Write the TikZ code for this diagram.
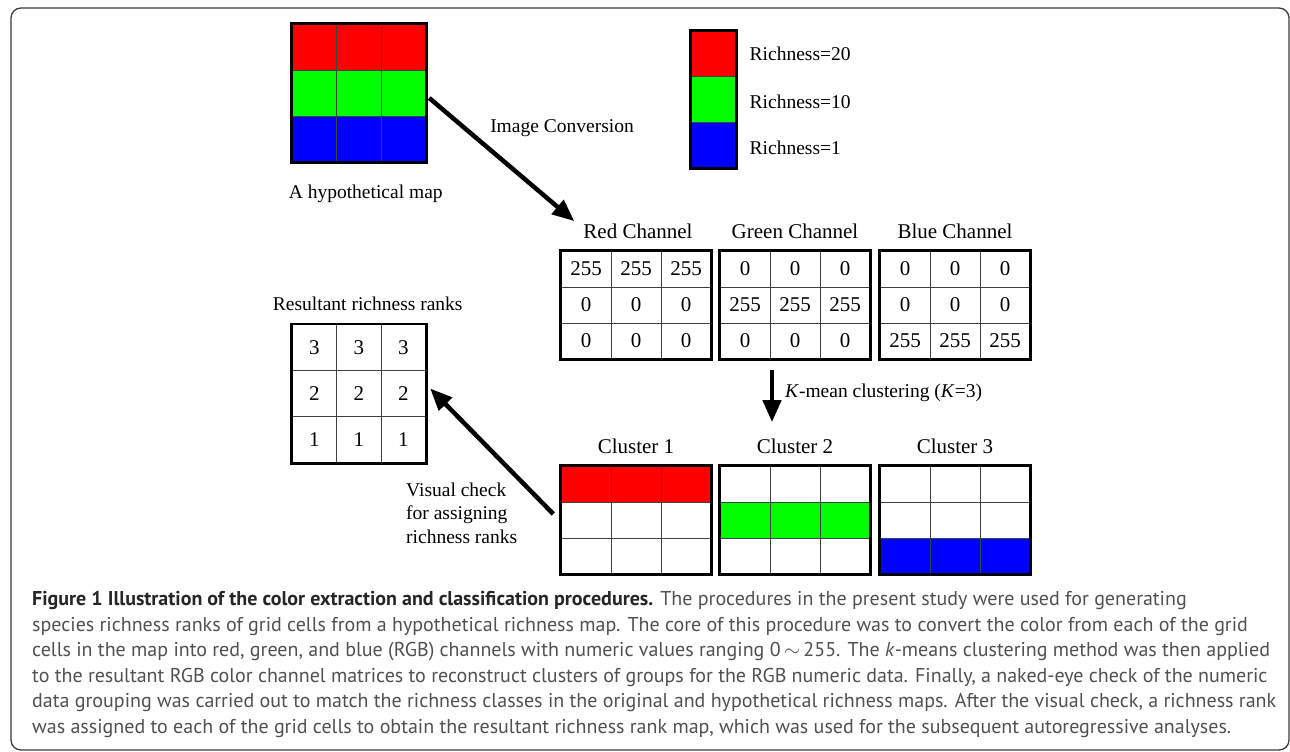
\documentclass[tikz,border=0pt]{standalone}
\usepackage{fontspec}
\setmainfont{Liberation Serif}
\newfontfamily\capfont{PT Sans}
\usetikzlibrary{positioning, matrix, arrows.meta}

\definecolor{mapred}{RGB}{255,0,0}
\definecolor{mapgreen}{RGB}{0,255,0}
\definecolor{mapblue}{RGB}{0,0,255}
\definecolor{capgray}{RGB}{80,80,82}
\definecolor{framegray}{RGB}{60,60,60}

% caption size: widest line is 1244 px wide in the figure
\newlength\capw
\settowidth\capw{\capfont\fontsize{10}{12}\selectfont data grouping was carried out to match the richness classes in the original and hypothetical richness maps. After the visual check, a richness rank}
\pgfmathsetmacro\capsize{10*1244/\capw}

\begin{document}
\begin{tikzpicture}[
    x=1pt, y=-1pt,
    cellgrid/.style={matrix of nodes, nodes in empty cells, inner sep=0pt,
      column sep=-1pt, row sep=-1pt,
      nodes={draw=black!75, line width=1pt, inner sep=0pt, anchor=center,
        minimum width=50pt, minimum height=36pt, font=\fontsize{21}{25}\selectfont}},
    mapgrid/.style={cellgrid, nodes={minimum width=44.5pt, minimum height=46pt}},
    outline/.style={draw=black, line width=2.6pt},
    chantitle/.style={font=\fontsize{21}{25}\selectfont, inner sep=2pt},
    lab/.style={font=\fontsize{19.5}{23.5}\selectfont, inner sep=2pt},
    bigarrow/.style={line width=4.5pt, -{Triangle[length=22pt,width=18pt]}},
    node distance=9pt
  ]
  \useasboundingbox (0,0) rectangle (1290,752);
  \draw[framegray, line width=1.3pt, rounded corners=10pt] (11,8) rectangle (1289,750);

  % colour map and legend
  \matrix[mapgrid, row 1/.style={nodes={fill=mapred}}, row 2/.style={nodes={fill=mapgreen}},
    row 3/.style={nodes={fill=mapblue}}] (map) at (358.75,93) {&&\\&&\\&&\\};
  \node[lab, below=20pt of map, xshift=7pt] (mapT) {A hypothetical map};
  \matrix[cellgrid, nodes={minimum width=45pt, minimum height=45.7pt},
    row 1/.style={nodes={fill=mapred}}, row 2/.style={nodes={fill=mapgreen}},
    row 3/.style={nodes={fill=mapblue}}] (legend) at (713.5,99.5) {\\\\\\};
  \node[lab, right=11pt of legend-1-1] (r20) {Richness=20};
  \node[lab, right=11pt of legend-2-1, yshift=-2pt] (r10) {Richness=10};
  \node[lab, right=11pt of legend-3-1, yshift=-3pt] (r1) {Richness=1};
  \node[lab] (conv) at (562,128) {Image Conversion};

  % RGB channels
  \matrix[cellgrid] (redch) at (636,305) {255 & 255 & 255\\ 0 & 0 & 0\\ 0 & 0 & 0\\};
  \matrix[cellgrid] (greench) at (795,305) {0 & 0 & 0\\ 255 & 255 & 255\\ 0 & 0 & 0\\};
  \matrix[cellgrid] (bluech) at (955,305) {0 & 0 & 0\\ 0 & 0 & 0\\ 255 & 255 & 255\\};
  \node[chantitle, above=of redch, xshift=2pt] (redT) {Red Channel};
  \node[chantitle, above=of greench] (greenT) {Green Channel};
  \node[chantitle, above=of bluech] (blueT) {Blue Channel};

  % clusters
  \matrix[cellgrid, row 1/.style={nodes={fill=mapred}}] (cl1) at (636,520) {&&\\&&\\&&\\};
  \matrix[cellgrid, row 2/.style={nodes={fill=mapgreen}}] (cl2) at (795,520) {&&\\&&\\&&\\};
  \matrix[cellgrid, row 3/.style={nodes={fill=mapblue}}] (cl3) at (955,520) {&&\\&&\\&&\\};
  \node[chantitle, above=of cl1] (cl1T) {Cluster 1};
  \node[chantitle, above=of cl2] (cl2T) {Cluster 2};
  \node[chantitle, above=of cl3] (cl3T) {Cluster 3};
  \node[lab, anchor=west] (kmean) at (783,393) {\textit{K}-mean clustering (\textit{K}=3)};

  % ranks
  \matrix[mapgrid] (ranks) at (358.75,393.5) {3 & 3 & 3\\ 2 & 2 & 2\\ 1 & 1 & 1\\};
  \node[lab, above=11pt of ranks, xshift=9pt] (ranksT) {Resultant richness ranks};
  \node[lab, anchor=west, align=left] (vis) at (404,513) {Visual check\\for assigning\\richness ranks};

  \foreach \g in {map,legend,redch,greench,bluech,ranks,cl1,cl2,cl3}
    \draw[outline] (\g.north west) rectangle (\g.south east);

  \draw[bigarrow] ([shift={(3,5)}]map.east) -- ([shift={(-7,-1)}]redT.north west);
  \draw[bigarrow] ([shift={(-23,10)}]greench.south) -- ([shift={(-23,-15)}]cl2T.north);
  \draw[bigarrow] ([shift={(-7,-6)}]cl1.west) -- ([shift={(4,-5)}]ranks.east);

  % caption
  \node[anchor=north west, inner sep=0pt, align=left, text=capgray,
    font=\capfont\fontsize{\capsize}{25.6}\selectfont] (cap) at (32,591)
    {\textbf{\color{black!85}Figure 1 Illustration of the color extraction and classification procedures.} The procedures in the present study were used for generating\\
     species richness ranks of grid cells from a hypothetical richness map. The core of this procedure was to convert the color from each of the grid\\
     cells in the map into red, green, and blue (RGB) channels with numeric values ranging 0\,$\sim$\,255. The \textit{k}-means clustering method was then applied\\
     to the resultant RGB color channel matrices to reconstruct clusters of groups for the RGB numeric data. Finally, a naked-eye check of the numeric\\
     data grouping was carried out to match the richness classes in the original and hypothetical richness maps. After the visual check, a richness rank\\
     was assigned to each of the grid cells to obtain the resultant richness rank map, which was used for the subsequent autoregressive analyses.};
\end{tikzpicture}
\end{document}
